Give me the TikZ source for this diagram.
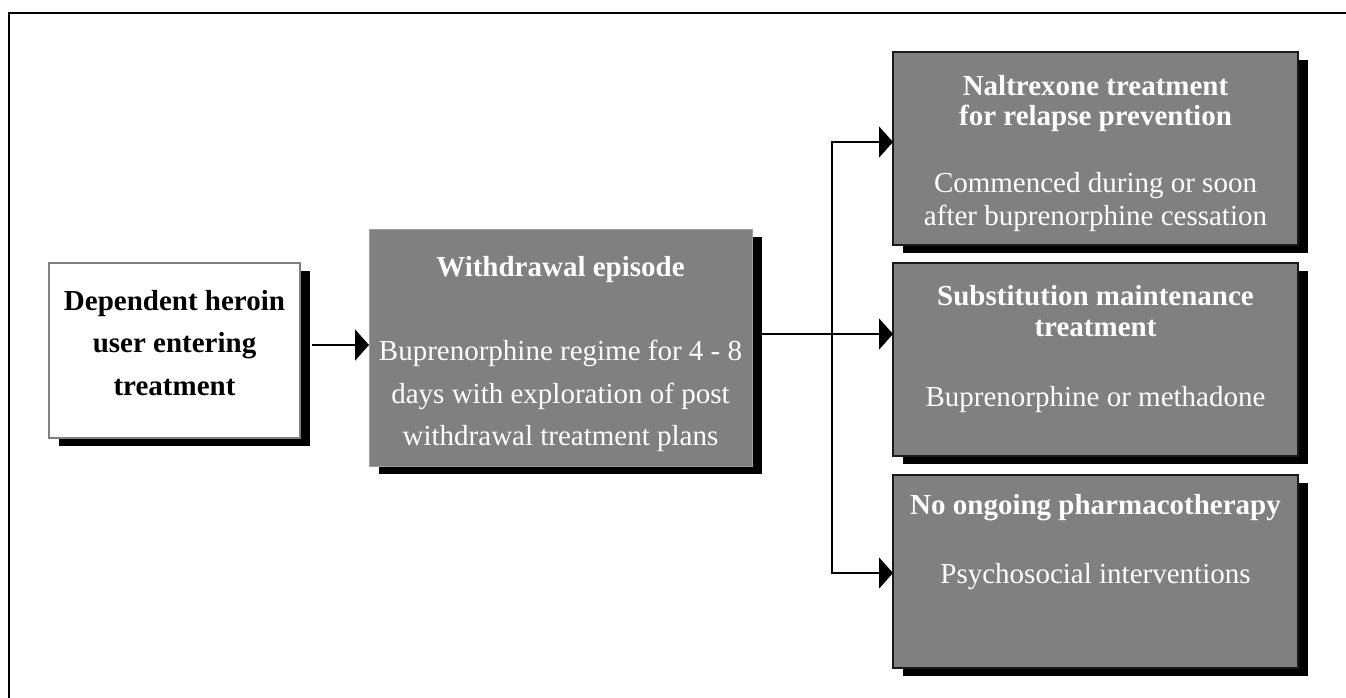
\documentclass[tikz,border=0pt]{standalone}
\usepackage{fontspec}
\setmainfont{Liberation Serif}
\usetikzlibrary{arrows.meta,calc,shadows}
\definecolor{boxgray}{HTML}{808080}
\definecolor{edgedark}{HTML}{1A1A1A}
\definecolor{edgelight}{HTML}{A0A0A0}
\begin{document}
\begin{tikzpicture}[x=1pt,y=-1pt,
  shad/.style={general shadow={fill=black, shadow xshift=10pt, shadow yshift=-8pt}},
  whitebox/.style={shad, draw=boxgray, line width=2.2pt, fill=white, inner sep=0pt, outer sep=0pt},
  midbox/.style={shad, draw=edgelight, line width=1pt, fill=boxgray, inner sep=0pt, outer sep=0pt},
  darkbox/.style={shad, draw=edgedark, line width=2pt, fill=boxgray, inner sep=0pt, outer sep=0pt},
  ttl/.style={anchor=base, inner sep=0pt, font=\fontsize{29}{30}\selectfont\bfseries},
  txt/.style={anchor=base, inner sep=0pt, font=\fontsize{29}{30}\selectfont},
  ln/.style={line width=2pt, line join=miter},
  arr/.style={ln, -{Triangle[length=14pt,width=31pt]}}
]
\useasboundingbox (0,0) rectangle (1346,697);
% outer frame
\draw[line width=2.6pt, line join=miter] (9,702) -- (9,13) -- (1352,13);

% boxes
\node[whitebox, minimum width=251pt, minimum height=175pt] (A) at (174.5,350.5) {};
\node[midbox, minimum width=383pt, minimum height=237pt] (B) at (560.5,347.5) {};
\node[darkbox, minimum width=405pt, minimum height=193pt] (C) at (1095.5,148.5) {};
\node[darkbox, minimum width=405pt, minimum height=193pt] (D) at (1095.5,359.5) {};
\node[darkbox, minimum width=405pt, minimum height=193pt] (E) at (1095.5,571.5) {};

% texts
\node[ttl] (A1) at (174.5,310) {Dependent heroin};
\node[ttl] (A2) at (174.5,352) {user entering};
\node[ttl] (A3) at (174.5,395) {treatment};

\begin{scope}[text=white]
\node[ttl] (B1) at (560.5,276) {Withdrawal episode};
\node[txt] (B2) at (560.5,360) {Buprenorphine regime for 4 - 8};
\node[txt] (B3) at (560.5,403) {days with exploration of post};
\node[txt] (B4) at (560.5,445) {withdrawal treatment plans};

\node[ttl] (C1) at (1095.5,95) {Naltrexone treatment};
\node[ttl] (C2) at (1095.5,125) {for relapse prevention};
\node[txt] (C3) at (1095.5,192) {Commenced during or soon};
\node[txt] (C4) at (1095.5,225) {after buprenorphine cessation};

\node[ttl] (D1) at (1095.5,305) {Substitution maintenance};
\node[ttl] (D2) at (1095.5,336) {treatment};
\node[txt] (D3) at (1095.5,406) {Buprenorphine or methadone};

\node[ttl] (E1) at (1095.5,514) {No ongoing pharmacotherapy};
\node[txt] (E2) at (1095.5,583) {Psychosocial interventions};
\end{scope}

% connectors
\coordinate (a1) at ($(A.east)+(12,-5.5)$);
\draw[arr] (a1) -- (a1 -| B.west);

\coordinate (b1) at ($(B.east)+(8.5,-13.5)$);
\coordinate (j) at ($(b1)+(71,0)$);
\draw[ln] (b1) -- (j);
\draw[arr] (j) -- (j -| D.west);
\draw[arr] (j) |- ($(C.west)+(0,-6.5)$);
\draw[arr] (j) |- ($(E.west)+(0,1.5)$);
\end{tikzpicture}
\end{document}
